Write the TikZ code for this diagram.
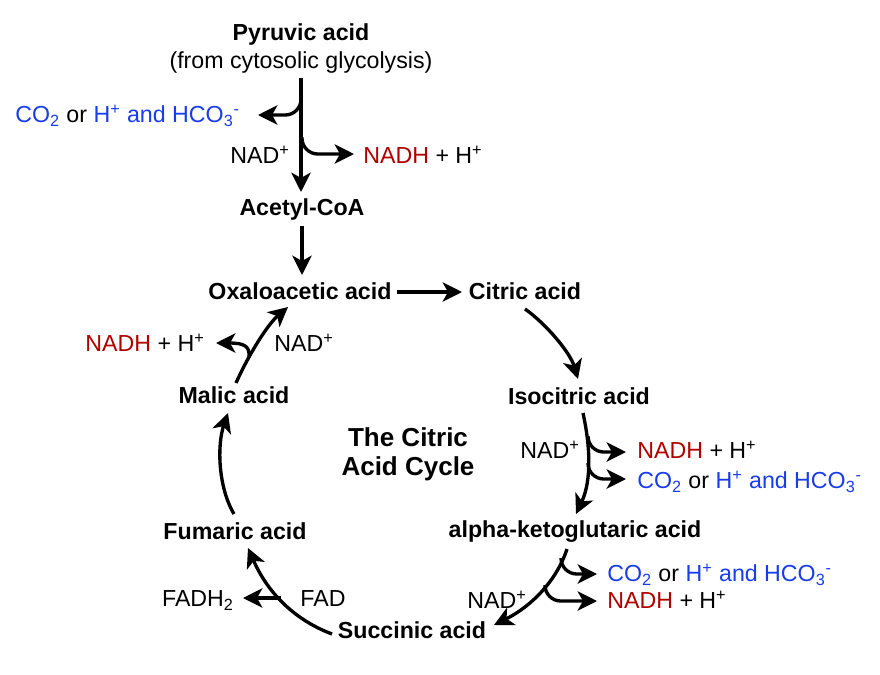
\documentclass[tikz,border=0pt]{standalone}
\usepackage{fontspec}
\setmainfont{Liberation Sans}
\usetikzlibrary{arrows.meta}
\definecolor{cblue}{RGB}{25,60,235}
\definecolor{cred}{RGB}{175,0,0}
\newcommand\COline{\textcolor{cblue}{CO\textsubscript{2}} or \textcolor{cblue}{H\textsuperscript{+} and HCO\textsubscript{3}\textsuperscript{-}}}
\newcommand\NADHline{\textcolor{cred}{NADH} + H\textsuperscript{+}}
\newcommand\NADp{NAD\textsuperscript{+}}
\begin{document}
\begin{tikzpicture}[x=0.02cm, y=-0.02cm,
  every node/.style={inner sep=0pt, font=\fontsize{13.2}{16}\selectfont},
  bold/.style={font=\fontsize{13.2}{16}\selectfont\bfseries},
  title/.style={font=\fontsize{14.8}{18}\selectfont\bfseries},
  arr/.style={line width=1.9pt, -{Stealth[length=11pt,width=11pt,inset=3pt]}},
  brarr/.style={arr, rounded corners=9pt}]
\useasboundingbox (0,0) rectangle (880,674);

% ---------- top: pyruvate to acetyl-CoA ----------
\node[bold, anchor=base] (pyr) at (301,40) {Pyruvic acid};
\node[anchor=base] (pyrsub) at (301,68) {(from cytosolic glycolysis)};
\node[anchor=base west] (co2a) at (15,122) {\COline};
\node[anchor=base] (nada) at (260,163) {\NADp};
\node[anchor=base west] (nadha) at (363,163) {\NADHline};
\node[bold, anchor=base] (acetyl) at (302,215) {Acetyl-CoA};

\coordinate (pyrA) at (301,78);
\coordinate (pyrB) at (301,192);
\coordinate (brA) at (301,97);
\coordinate (brAend) at (258,115);
\coordinate (brB) at (302,137);
\coordinate (brBend) at (354,154);
\draw[arr] (pyrA) -- (pyrB);
\draw[brarr] (brA) |- (brAend);
\draw[brarr] (brB) |- (brBend);

% ---------- cycle nodes ----------
\node[bold, anchor=base] (oxa) at (300,299.5) {Oxaloacetic acid};
\node[bold, anchor=base] (cit) at (525,299.5) {Citric acid};
\node[bold, anchor=base] (iso) at (579,404) {Isocitric acid};
\node[bold, anchor=base] (akg) at (575,537) {alpha-ketoglutaric acid};
\node[bold, anchor=base] (suc) at (412,638) {Succinic acid};
\node[bold, anchor=base] (fum) at (235,539) {Fumaric acid};
\node[bold, anchor=base] (mal) at (234,403.5) {Malic acid};
\node[title, anchor=base] (t1) at (408,446) {The Citric};
\node[title, anchor=base] (t2) at (408,475) {Acid Cycle};

% acetyl -> oxaloacetic
\coordinate (acA) at (302,226);
\coordinate (acB) at (302,275);
\draw[arr] (acA) -- (acB);

% oxaloacetic -> citric
\coordinate (oxR) at (397,292);
\coordinate (citL) at (462,292);
\draw[arr] (oxR) -- (citL);

% citric -> isocitric
\coordinate (citB) at (525,309);
\coordinate (isoT) at (578,379);
\draw[arr] (citB) .. controls (545,323) and (570,352) .. (isoT);

% isocitric -> alpha-ketoglutaric
\node[anchor=base] (nadb) at (550,458) {\NADp};
\node[anchor=base west] (nadhb) at (637,458) {\NADHline};
\node[anchor=base west] (co2b) at (637,488) {\COline};
\coordinate (isoB) at (583,413);
\coordinate (akgT) at (576,514);
\draw[arr] (isoB) .. controls (590,445) and (592,480) .. (akgT);
\coordinate (brC) at (588,437);
\coordinate (brCend) at (626,452);
\coordinate (brD) at (588,464);
\coordinate (brDend) at (626,479);
\draw[brarr] (brC) |- (brCend);
\draw[brarr] (brD) |- (brDend);

% alpha-ketoglutaric -> succinic
\node[anchor=base] (nadc) at (497,608) {\NADp};
\node[anchor=base west] (co2c) at (607,581.5) {\COline};
\node[anchor=base west] (nadhc) at (607,608.5) {\NADHline};
\coordinate (akgB) at (567,549);
\coordinate (sucR) at (494,625);
\draw[arr] (akgB) .. controls (557,580) and (532,606) .. (sucR);
\coordinate (brE) at (561,558);
\coordinate (brEend) at (597,574);
\coordinate (brF) at (545,585);
\coordinate (brFend) at (597,601);
\draw[brarr] (brE) |- (brEend);
\draw[brarr] (brF) |- (brFend);

% succinic -> fumaric
\node[anchor=base] (fadh) at (198,606.5) {FADH\textsubscript{2}};
\node[anchor=base] (fad) at (323,606) {FAD};
\coordinate (sucL) at (332,634);
\coordinate (fumB) at (248,548);
\draw[arr] (sucL) .. controls (300,622) and (270,598) .. (fumB);
\coordinate (brG) at (281,598);
\coordinate (brGend) at (243,598);
\draw[arr] (brG) -- (brGend);

% fumaric -> malic
\coordinate (fumT) at (234,514);
\coordinate (malB) at (228,413);
\draw[arr] (fumT) .. controls (218,487) and (217,445) .. (malB);

% malic -> oxaloacetic
\node[anchor=base] (nadd) at (304,351) {\NADp};
\node[anchor=base east] (nadhd) at (205,351) {\NADHline};
\coordinate (malT) at (236,383);
\coordinate (oxaB) at (288,307);
\draw[arr] (malT) .. controls (248,356) and (267,325) .. (oxaB);
\coordinate (brH) at (249,357);
\coordinate (brHend) at (216,343);
\draw[arr] (brH) .. controls (250,346) and (244,343) .. (brHend);
\end{tikzpicture}
\end{document}
